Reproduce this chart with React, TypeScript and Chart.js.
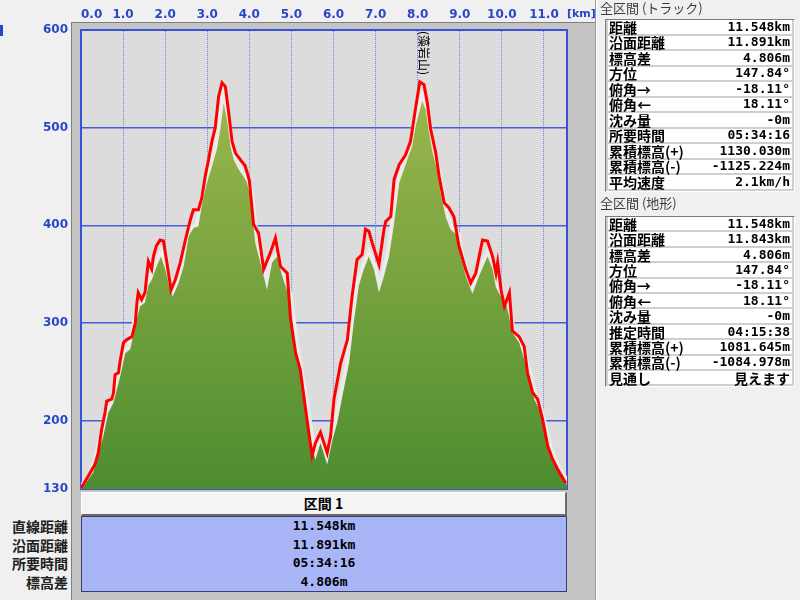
import React, { useEffect, useRef } from "react";
import { Chart, registerables } from "chart.js";

Chart.register(...registerables);

// ---- Elevation profile data (distance km / elevation m) ----
const trackKm = [
  0, 0.1, 0.21, 0.33, 0.41, 0.49, 0.57, 0.61, 0.73, 0.77,
  0.81, 0.89, 0.93, 1.01, 1.09, 1.21, 1.29, 1.33, 1.36, 1.44,
  1.52, 1.6, 1.68, 1.72, 1.79, 1.88, 1.96, 2.04, 2.14, 2.24,
  2.36, 2.48, 2.6, 2.67, 2.79, 2.87, 2.95, 3.03, 3.11, 3.19,
  3.27, 3.35, 3.43, 3.51, 3.59, 3.67, 3.79, 3.9, 4.0, 4.1,
  4.22, 4.34, 4.5, 4.62, 4.74, 4.9, 4.98, 5.1, 5.21, 5.37,
  5.49, 5.57, 5.69, 5.85, 5.93, 6.01, 6.17, 6.33, 6.44, 6.56,
  6.68, 6.76, 6.84, 6.92, 7.08, 7.2, 7.24, 7.36, 7.44, 7.56,
  7.71, 7.83, 7.95, 8.05, 8.15, 8.23, 8.31, 8.43, 8.51, 8.63,
  8.74, 8.86, 8.98, 9.14, 9.26, 9.38, 9.54, 9.66, 9.78, 9.86,
  9.9, 9.98, 10.06, 10.18, 10.25, 10.41, 10.53, 10.61, 10.73, 10.85,
  10.97, 11.09, 11.21, 11.33, 11.45, 11.52,
];
const trackElev = [
  131, 138, 146, 155, 167, 191, 208, 220, 222, 228,
  247, 249, 261, 280, 283, 286, 300, 321, 331, 324,
  331, 363, 355, 368, 379, 385, 384, 362, 334, 344,
  362, 385, 406, 416, 416, 428, 450, 467, 486, 500,
  532, 546, 542, 515, 486, 474, 467, 461, 446, 401,
  392, 355, 372, 387, 358, 351, 304, 269, 252, 201,
  164, 177, 188, 167, 184, 222, 259, 283, 327, 365,
  370, 396, 394, 382, 360, 396, 404, 409, 447, 462,
  472, 486, 520, 547, 544, 525, 498, 474, 450, 423,
  418, 409, 379, 355, 341, 351, 385, 384, 368, 351,
  362, 334, 317, 331, 292, 286, 276, 249, 229, 222,
  201, 174, 160, 150, 141, 136,
];
const terrainKm = [
  0, 0.05, 0.29, 0.53, 0.65, 0.77, 0.93, 1.05, 1.17, 1.29,
  1.4, 1.52, 1.6, 1.68, 1.8, 1.9, 2.0, 2.12, 2.18, 2.32,
  2.44, 2.56, 2.67, 2.79, 2.87, 2.99, 3.11, 3.23, 3.31, 3.39,
  3.47, 3.55, 3.63, 3.75, 3.86, 3.94, 4.02, 4.14, 4.26, 4.42,
  4.54, 4.66, 4.78, 4.94, 5.1, 5.21, 5.33, 5.45, 5.57, 5.69,
  5.85, 5.98, 6.09, 6.21, 6.37, 6.48, 6.6, 6.72, 6.84, 6.96,
  7.08, 7.2, 7.32, 7.44, 7.56, 7.75, 7.87, 7.95, 8.03, 8.11,
  8.19, 8.27, 8.35, 8.47, 8.55, 8.67, 8.78, 8.92, 9.02, 9.14,
  9.3, 9.46, 9.66, 9.78, 9.86, 9.98, 10.1, 10.25, 10.41, 10.53,
  10.65, 10.77, 10.89, 11.01, 11.13, 11.29, 11.44, 11.548,
];
const terrainElev = [
  130, 132, 147, 184, 208, 218, 245, 269, 273, 297,
  317, 321, 338, 344, 358, 368, 355, 334, 327, 341,
  358, 389, 397, 399, 420, 443, 460, 478, 498, 525,
  508, 481, 467, 457, 450, 444, 430, 382, 362, 334,
  362, 368, 348, 327, 273, 245, 218, 181, 160, 177,
  155, 181, 198, 225, 259, 300, 338, 355, 368, 355,
  331, 348, 368, 402, 443, 467, 481, 501, 515, 527,
  518, 495, 475, 455, 432, 408, 396, 390, 368, 348,
  330, 348, 368, 355, 336, 327, 321, 290, 280, 263,
  245, 222, 211, 191, 170, 153, 143, 134,
];

// ---- Axes ----
const xTicks = [0, 1, 2, 3, 4, 5, 6, 7, 8, 9, 10, 11];
const xMax = 11.548;
const xUnit = "[km]";
const yMin = 130;
const yMax = 600;
const yStep = 100;

// ---- Annotation ----
const peakKm = 8.14;
const peakName = "(藻岩山)";

// ---- Section table (bottom) ----
const sectionHeader = "区間 1";
const sectionLabels = ["直線距離", "沿面距離", "所要時間", "標高差"];
const sectionValues = ["11.548km", "11.891km", "05:34:16", "4.806m"];

// ---- Right panel ----
const trackTitle = "全区間 (トラック)";
const trackLabels = ["距離", "沿面距離", "標高差", "方位", "俯角→", "俯角←", "沈み量", "所要時間", "累積標高(+)", "累積標高(-)", "平均速度"];
const trackValues = ["11.548km", "11.891km", "4.806m", "147.84°", "-18.11°", "18.11°", "-0m", "05:34:16", "1130.030m", "-1125.224m", "2.1km/h"];
const terrainTitle = "全区間 (地形)";
const terrainLabels = ["距離", "沿面距離", "標高差", "方位", "俯角→", "俯角←", "沈み量", "推定時間", "累積標高(+)", "累積標高(-)", "見通し"];
const terrainValues = ["11.548km", "11.843km", "4.806m", "147.84°", "-18.11°", "18.11°", "-0m", "04:15:38", "1081.645m", "-1084.978m", "見えます"];

const FONT_CJK = '"Noto Sans CJK JP", sans-serif';
const FONT_MONO = '"DejaVu Sans Mono", monospace';
const AXIS_BLUE = "#2846c8";

function InfoTable(props: { top: number; labels: string[]; values: string[]; pitch: number }) {
  const { top, labels, values, pitch } = props;
  return (
    <div
      style={{
        position: "absolute",
        left: 605,
        top,
        width: 190,
        height: labels.length * pitch + 2,
        background: "#cfcfcf",
        borderTop: "1px solid #7a7a7a",
        borderLeft: "1px solid #7a7a7a",
        borderRight: "1px solid #ffffff",
        borderBottom: "1px solid #ffffff",
        boxSizing: "border-box",
      }}
    >
      {labels.map((l, i) => {
        const kana = /[\u3040-\u30ff]/.test(values[i]);
        return (
          <div
            key={i}
            style={{
              position: "absolute",
              left: 2,
              right: 2,
              top: i * pitch,
              height: pitch - 2,
              background: "#ffffff",
              display: "flex",
              justifyContent: "space-between",
              alignItems: "center",
              overflow: "visible",
            }}
          >
            <span style={{ fontFamily: FONT_CJK, fontWeight: 700, fontSize: 14, lineHeight: "14px", paddingLeft: 1, color: "#000" }}>{l}</span>
            <span
              style={{
                fontFamily: kana ? FONT_CJK : FONT_MONO,
                fontWeight: 700,
                fontSize: kana ? 14 : 13,
                lineHeight: "14px",
                paddingRight: 2,
                color: "#000",
              }}
            >
              {values[i]}
            </span>
          </div>
        );
      })}
    </div>
  );
}

export default function App() {
  const canvasRef = useRef<HTMLCanvasElement>(null);

  useEffect(() => {
    const canvas = canvasRef.current;
    if (!canvas) return;

    const trackPoints = trackKm.map((x, i) => ({ x, y: trackElev[i] }));
    const terrainPoints = terrainKm.map((x, i) => ({ x, y: terrainElev[i] }));

    const plotPlugin = {
      id: "plotDecor",
      beforeDraw(chart: any) {
        const { ctx, chartArea: a } = chart;
        ctx.save();
        ctx.fillStyle = "#dcdcdc";
        ctx.fillRect(a.left, a.top, a.right - a.left, a.bottom - a.top);
        ctx.restore();
      },
      beforeDatasetsDraw(chart: any) {
        const { ctx, chartArea: a } = chart;
        ctx.save();
        ctx.strokeStyle = "#3a52d8";
        ctx.lineWidth = 2;
        ctx.strokeRect(a.left, a.top, a.right - a.left, a.bottom - a.top);
        ctx.restore();
      },
      afterDatasetsDraw(chart: any) {
        const { ctx, chartArea: a } = chart;
        const x = chart.scales.x.getPixelForValue(peakKm);
        ctx.save();
        ctx.translate(x, a.top + 1);
        ctx.rotate(Math.PI / 2);
        ctx.font = '12px "Noto Sans CJK JP"';
        ctx.fillStyle = "#000";
        ctx.textAlign = "left";
        ctx.textBaseline = "middle";
        ctx.fillText(peakName, 0, 0);
        ctx.restore();
      },
    };

    const chart = new Chart(canvas, {
      type: "line",
      data: {
        datasets: [
          {
            label: "track",
            data: trackPoints,
            borderColor: "#ff0000",
            borderWidth: 3,
            pointRadius: 0,
            fill: false,
            tension: 0,
            order: 0,
          },
          {
            label: "terrain",
            data: terrainPoints,
            borderWidth: 0,
            borderColor: "rgba(0,0,0,0)",
            pointRadius: 0,
            fill: "start",
            tension: 0,
            order: 1,
            backgroundColor: (ctx: any) => {
              const c = ctx.chart;
              const a = c.chartArea;
              if (!a) return "#6f9d3b";
              const g = c.ctx.createLinearGradient(0, a.top, 0, a.bottom);
              g.addColorStop(0, "#a9bd52");
              g.addColorStop(1, "#4d8d2f");
              return g;
            },
          },
          {
            label: "terrainEdge",
            data: terrainPoints,
            borderWidth: 8,
            borderColor: "#ebebeb",
            pointRadius: 0,
            fill: false,
            tension: 0,
            order: 2,
          },
        ],
      },
      options: {
        animation: false,
        responsive: false,
        events: [],
        layout: { padding: { left: 0, right: 23, top: 0, bottom: 3 } },
        plugins: {
          legend: { display: false },
          tooltip: { enabled: false },
          title: { display: false },
        },
        scales: {
          x: {
            type: "linear",
            position: "top",
            min: 0,
            max: xMax,
            afterBuildTicks: (scale: any) => {
              scale.ticks = [...xTicks.map((v) => ({ value: v })), { value: xMax }];
            },
            afterFit: (scale: any) => {
              scale.height = 30;
              scale.paddingLeft = 0;
              scale.paddingRight = 0;
            },
            ticks: {
              autoSkip: false,
              maxRotation: 0,
              minRotation: 0,
              align: "inner",
              padding: 8,
              color: AXIS_BLUE,
              font: { family: '"DejaVu Sans"', size: 12, weight: "bold" },
              callback: (v: any) => (xTicks.includes(v) ? Number(v).toFixed(1) : ""),
            },
            grid: {
              drawTicks: false,
              color: "#7585e4",
              lineWidth: 1,
            },
            border: { display: true, color: "#3a52d8", width: 2, dash: [1, 1] },
          },
          y: {
            type: "linear",
            min: yMin,
            max: yMax,
            afterFit: (scale: any) => {
              scale.width = 81;
              scale.paddingTop = 0;
              scale.paddingBottom = 0;
            },
            ticks: {
              stepSize: yStep,
              autoSkip: false,
              padding: 13,
              color: AXIS_BLUE,
              font: { family: '"DejaVu Sans"', size: 12, weight: "bold" },
            },
            grid: {
              drawTicks: false,
              color: "#4a5cd4",
              lineWidth: 1.5,
            },
            border: { display: true, color: "#3a52d8", width: 2 },
          },
        },
      },
      plugins: [plotPlugin],
    } as any);

    return () => chart.destroy();
  }, []);

  const rowPitch = 18.5;

  return (
    <div
      style={{
        position: "fixed",
        left: 0,
        top: 0,
        width: 800,
        height: 600,
        background: "#f0f0f0",
        overflow: "hidden",
        fontFamily: FONT_CJK,
      }}
    >
      {/* left marker */}
      <div style={{ position: "absolute", left: 0, top: 25, width: 3, height: 11, background: "#2846c8" }} />

      {/* gray frame behind plot */}
      <div
        style={{
          position: "absolute",
          left: 71,
          top: 22,
          width: 524,
          height: 578,
          background: "#c4c4c4",
          borderTop: "1px solid #808080",
          borderLeft: "1px solid #808080",
          boxSizing: "border-box",
        }}
      />

      {/* chart canvas */}
      <canvas ref={canvasRef} width={590} height={492} style={{ position: "absolute", left: 0, top: 0, width: 590, height: 492 }} />

      {/* x unit */}
      <span
        style={{
          position: "absolute",
          left: 567,
          top: 6,
          fontFamily: '"DejaVu Sans"',
          fontWeight: 700,
          fontSize: 11,
          lineHeight: "16px",
          color: AXIS_BLUE,
          whiteSpace: "nowrap",
        }}
      >
        {xUnit}
      </span>

      {/* section header */}
      <div
        style={{
          position: "absolute",
          left: 81,
          top: 492,
          width: 486,
          height: 24,
          background: "#f4f4f4",
          borderTop: "1px solid #ffffff",
          borderLeft: "1px solid #ffffff",
          borderRight: "2px solid #6a6a6a",
          borderBottom: "2px solid #6a6a6a",
          boxSizing: "border-box",
          textAlign: "center",
          fontWeight: 700,
          fontSize: 14,
          lineHeight: "21px",
          color: "#000",
        }}
      >
        {sectionHeader}
      </div>

      {/* section values */}
      <div
        style={{
          position: "absolute",
          left: 81,
          top: 516,
          width: 486,
          height: 76,
          background: "#a8b6f8",
          border: "1px solid #3c3c6c",
          boxSizing: "border-box",
        }}
      >
        {sectionValues.map((v, i) => (
          <div
            key={i}
            style={{
              position: "absolute",
              left: 0,
              right: 0,
              top: i * rowPitch,
              height: rowPitch,
              lineHeight: `${rowPitch}px`,
              textAlign: "center",
              fontFamily: FONT_MONO,
              fontWeight: 700,
              fontSize: 13,
              color: "#000",
            }}
          >
            {v}
          </div>
        ))}
      </div>
      {sectionLabels.map((l, i) => (
        <div
          key={i}
          style={{
            position: "absolute",
            left: 0,
            width: 68,
            top: 517 + i * rowPitch,
            height: rowPitch,
            lineHeight: `${rowPitch}px`,
            textAlign: "right",
            fontWeight: 700,
            fontSize: 14,
            color: "#202020",
            whiteSpace: "nowrap",
          }}
        >
          {l}
        </div>
      ))}

      {/* right panel */}
      <div style={{ position: "absolute", left: 595, top: 0, width: 1, height: 600, background: "#9a9a9a" }} />
      <div style={{ position: "absolute", left: 596, top: 0, width: 1, height: 600, background: "#ffffff" }} />
      <div
        style={{
          position: "absolute",
          left: 600,
          top: 0,
          height: 15,
          lineHeight: "15px",
          fontSize: 13,
          color: "#3c3c3c",
          whiteSpace: "nowrap",
        }}
      >
        {trackTitle}
      </div>
      <InfoTable top={19} labels={trackLabels} values={trackValues} pitch={15.5} />
      <div
        style={{
          position: "absolute",
          left: 600,
          top: 195,
          height: 15,
          lineHeight: "15px",
          fontSize: 13,
          color: "#3c3c3c",
          whiteSpace: "nowrap",
        }}
      >
        {terrainTitle}
      </div>
      <InfoTable top={216} labels={terrainLabels} values={terrainValues} pitch={15.4} />
    </div>
  );
}
